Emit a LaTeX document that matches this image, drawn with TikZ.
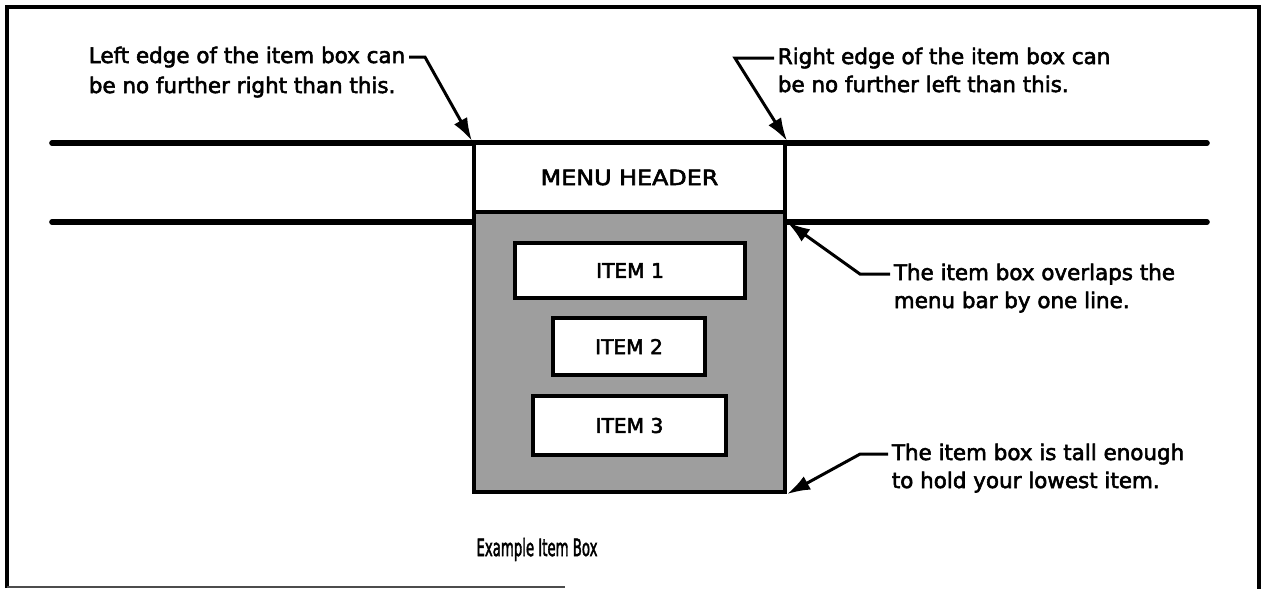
\documentclass[tikz,border=0pt]{standalone}
\usepackage{fontspec}
\setmainfont[FakeBold=2.6]{DejaVu Sans}
\usetikzlibrary{arrows.meta}
\begin{document}
\begin{tikzpicture}[x=0.02cm,y=-0.02cm,
  frameline/.style={line width=2.2pt},
  barline/.style={line width=3.2pt,line cap=round},
  boxline/.style={draw,line width=2.4pt,inner sep=0pt},
  itemstyle/.style={boxline,fill=white,font=\fontsize{11.5}{13}\selectfont},
  callout/.style={anchor=base west,inner xsep=2pt,inner ysep=0pt,font=\fontsize{12.2}{14}\selectfont},
  conn/.style={line width=1.7pt,line join=miter,-{Latex[length=4.6mm,width=3mm]}}
]
\useasboundingbox (0,0) rectangle (1266,589);
% frame
\draw[frameline] (7,588) -- (7,7) -- (1259,7) -- (1259,589);
\draw[line width=1pt,black!70] (7,587) -- (565,587);
% menu bar
\coordinate (barT) at (52,143);
\coordinate (barB) at (52,222);
\draw[barline] (barT) -- (1207,143);
\draw[barline] (barB) -- (1207,222);
% item box and header
\node[boxline,fill=black!38,minimum width=6.22cm,minimum height=5.6cm] (ibox) at (629.5,352) {};
\node[boxline,fill=white,minimum width=6.22cm,minimum height=1.38cm,font=\fontsize{12}{14}\selectfont] (hdr) at (629.5,177.5) {\scalebox{1.13}[1]{MENU HEADER}};
\node[itemstyle,minimum width=4.6cm,minimum height=1.1cm] (it1) at (630,270.5) {ITEM 1};
\node[itemstyle,minimum width=3.04cm,minimum height=1.14cm] (it2) at (629,346.5) {ITEM 2};
\node[itemstyle,minimum width=3.86cm,minimum height=1.18cm] (it3) at (629.5,425.5) {ITEM 3};
% callout texts
\node[callout] (l1) at (85,63) {Left edge of the item box can};
\node[callout] (l2) at (85,93) {be no further right than this.};
\node[callout] (r1) at (774,64) {Right edge of the item box can};
\node[callout] (r2) at (774,92) {be no further left than this.};
\node[callout] (o1) at (890,280) {The item box overlaps the};
\node[callout] (o2) at (890,308) {menu bar by one line.};
\node[callout] (b1) at (888,460) {The item box is tall enough};
\node[callout] (b2) at (888,488) {to hold your lowest item.};
\node[anchor=base,inner sep=0pt,font=\fontsize{13.5}{15}\selectfont] (cap) at (537,556) {\scalebox{0.56}[1]{Example Item Box}};
% connectors
\coordinate (lbend) at (425,0);
\coordinate (rbend) at (735,0);
\coordinate (obend) at (860,0);
\draw[conn] (l1.east) -- (l1.east -| lbend) -- (hdr.north west);
\draw[conn] (r1.west) -- (r1.west -| rbend) -- (hdr.north east);
\draw[conn] (o1.west) -- (o1.west -| obend) -- (ibox.east |- barB);
\draw[conn] (b1.west) -- (b1.west -| obend) -- (ibox.south east);
\end{tikzpicture}
\end{document}
